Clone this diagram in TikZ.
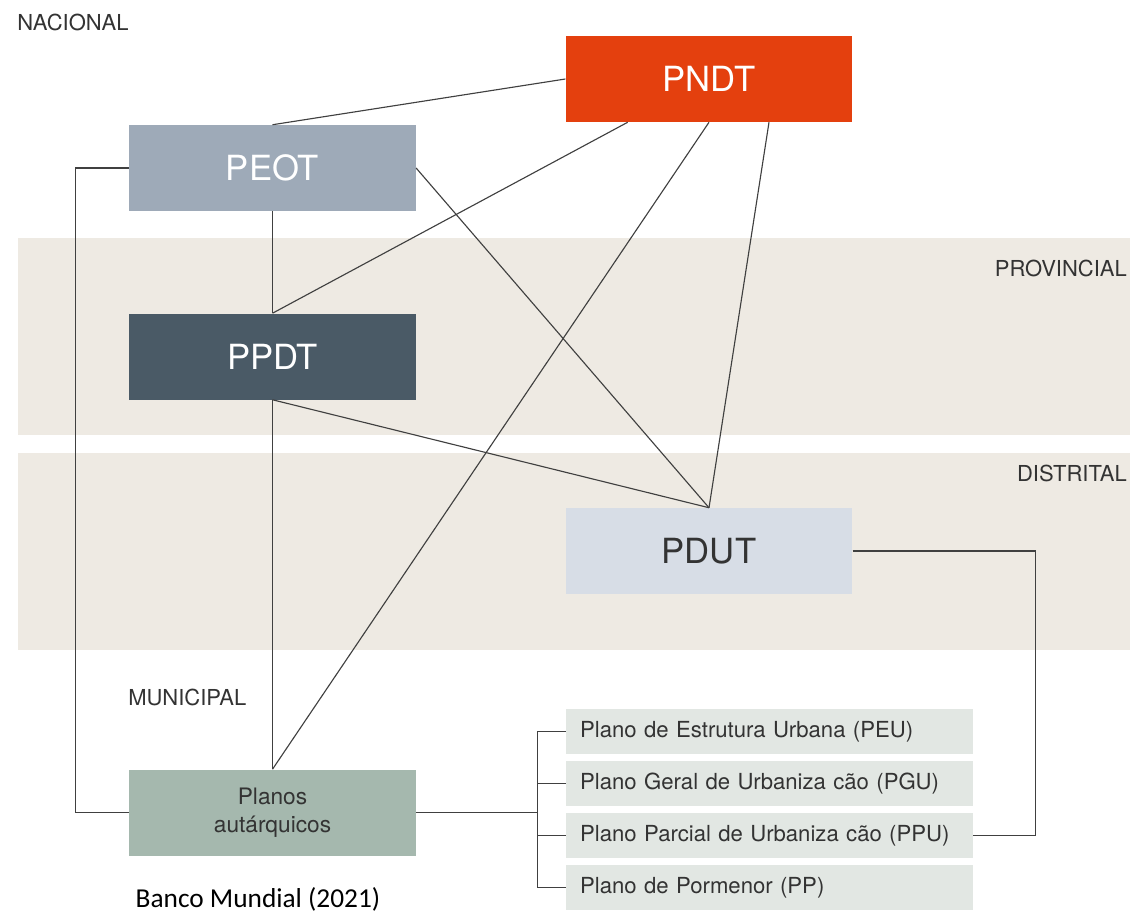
\documentclass[tikz,border=0pt]{standalone}
\usepackage{fontspec}
\setmainfont{TeX Gyre Heros}
\newfontfamily\sourcefont{Carlito}
\usepackage{xcolor}
\definecolor{nacional}{HTML}{E4400E}
\definecolor{estrat}{HTML}{9EAAB8}
\definecolor{provin}{HTML}{4A5A66}
\definecolor{distr}{HTML}{D7DDE6}
\definecolor{munic}{HTML}{A5B8AE}
\definecolor{subplan}{HTML}{E2E7E3}
\definecolor{band}{HTML}{EEEAE3}
\definecolor{wire}{HTML}{404040}
\definecolor{labeltext}{HTML}{333333}
\usepackage{tikz}
\usetikzlibrary{positioning}
\tikzstyle{plan} = [rectangle, inner sep=0pt, text centered,
    minimum width=215pt, minimum height=64.5pt, font=\fontsize{26}{30}\selectfont]
\tikzstyle{subbox} = [rectangle, fill=subplan, inner xsep=10.5pt, inner ysep=0pt,
    text width=284pt, align=left, minimum height=34pt, text=labeltext,
    font=\fontsize{16.6}{19}\selectfont]
\tikzstyle{level} = [inner sep=0pt, text=labeltext, font=\fontsize{16.5}{19}\selectfont]
\tikzstyle{line} = [draw, wire, line width=0.85pt]

\begin{document}
\begin{tikzpicture}[x=0.75pt,y=-0.75pt]
    \useasboundingbox (0,0) rectangle (1130,916);
    % Level bands
    \fill [band] (18,238) rectangle (1130,435);
    \fill [band] (18,453) rectangle (1130,650);

    \node [level,anchor=west] (nac) at (17,22) {NACIONAL};
    \node [level,anchor=east] (prov) at (1127,268) {PROVINCIAL};
    \node [level,anchor=east] (dist) at (1127,473) {DISTRITAL};
    \node [level,anchor=west] (mun) at (128,697) {MUNICIPAL};

    % Place nodes
    \node [plan,fill=nacional,text=white] (pndt) at (709,79) {PNDT};
    \node [plan,fill=estrat,text=white] (peot) at (272.5,168) {PEOT};
    \node [plan,fill=provin,text=white] (ppdt) at (272.5,356.5) {PPDT};
    \node [plan,fill=distr,text=labeltext] (pdut) at (709,551) {PDUT};
    \node [plan,fill=munic,text=labeltext,align=center,
        font=\fontsize{17}{21}\selectfont] (planos) at (272.5,812.5) {Planos\\aut\'arquicos};

    \node [subbox] (peu) at (769.5,731.5) {Plano de Estrutura Urbana (PEU)};
    \node [subbox] (pgu) at (769.5,783.5) {Plano Geral de Urbaniza c\~ao (PGU)};
    \node [subbox] (ppu) at (769.5,835.5) {Plano Parcial de Urbaniza c\~ao (PPU)};
    \node [subbox] (pp) at (769.5,887.5) {Plano de Pormenor (PP)};

    \node [font=\sourcefont\fontsize{20.5}{24}\selectfont,text=black] (source) at (258,899) {Banco Mundial (2021)};

    % Draw edges
    \path [line] (pndt.west) -- (peot.north);
    \path [line] ([xshift=-61pt]pndt.south) -- (ppdt.north);
    \path [line] (pndt.south) -- (planos.north);
    \path [line] ([xshift=45pt]pndt.south) -- (pdut.north);
    \path [line] (peot.east) -- (pdut.north);
    \path [line] (peot.south) -- (ppdt.north);
    \path [line] (ppdt.south) -- (pdut.north);
    \path [line] (ppdt.south) -- (planos.north);
    \path [line] (peot.west) --++ (-53,0) |- (planos.west);
    \path [line] (pdut.east) --++ (183,0) |- (ppu.east);
    \path [line] (planos.east) --++ (121,0) coordinate (fork);
    \foreach \n in {peu,pgu,ppu,pp}
        \path [line] (fork) |- (\n.west);
\end{tikzpicture}
\end{document}
